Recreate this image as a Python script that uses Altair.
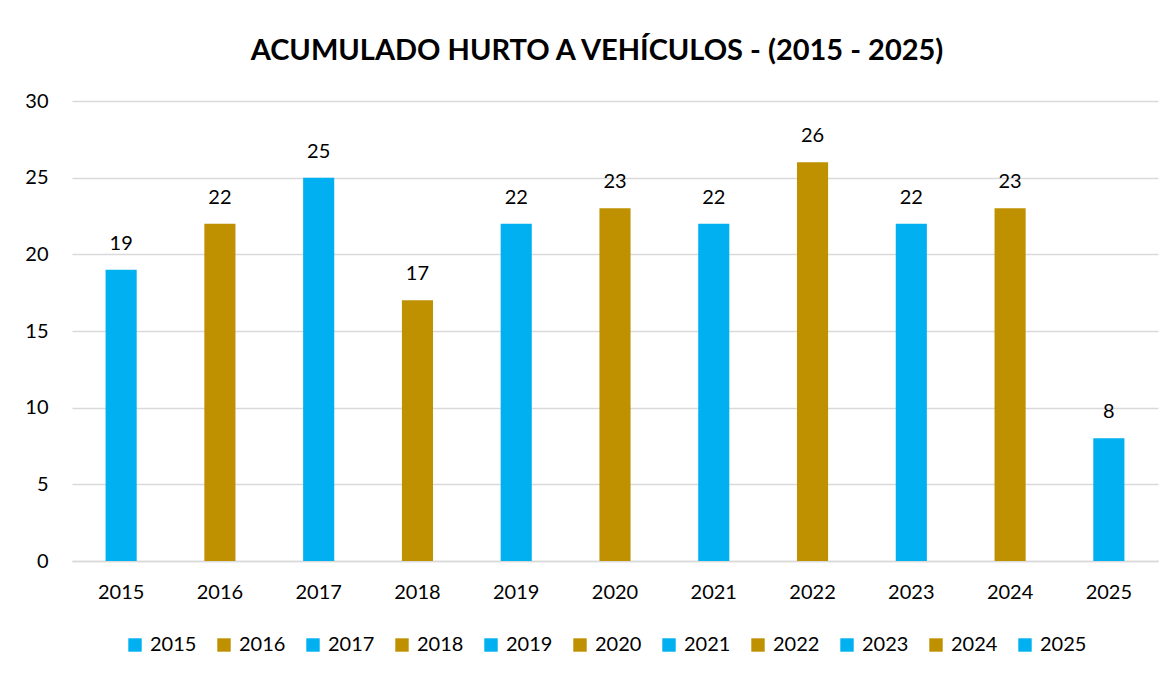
import altair as alt
import pandas as pd

years = ["2015", "2016", "2017", "2018", "2019", "2020", "2021", "2022", "2023", "2024", "2025"]
values = [19, 22, 25, 17, 22, 23, 22, 26, 22, 23, 8]
palette = ["#00B0F0", "#BF9000", "#00B0F0", "#BF9000", "#00B0F0", "#BF9000",
           "#00B0F0", "#BF9000", "#00B0F0", "#BF9000", "#00B0F0"]

df = pd.DataFrame({"year": years, "value": values})

FONT = "Lato"

x = alt.X("year:N", sort=years, title=None,
          scale=alt.Scale(paddingInner=0.685, paddingOuter=0.34),
          axis=alt.Axis(labelAngle=0, labelFontSize=20, labelFont=FONT, labelColor="#000000",
                        labelPadding=21, ticks=False, domainColor="#d9d9d9", domainWidth=1.5,
                        grid=False))
y = alt.Y("value:Q", title=None,
          scale=alt.Scale(domain=[0, 30]),
          axis=alt.Axis(values=[0, 5, 10, 15, 20, 25, 30], labelFontSize=20, labelFont=FONT,
                        labelColor="#000000", labelPadding=24, ticks=False, domain=False,
                        gridColor="#d9d9d9", gridWidth=1.5))

bars = alt.Chart(df).mark_bar().encode(
    x=x, y=y,
    color=alt.Color("year:N", sort=years,
                    scale=alt.Scale(domain=years, range=palette),
                    legend=alt.Legend(orient="none", legendX=53, legendY=534, direction="horizontal",
                                      columns=11, title=None, symbolType="square", symbolSize=180,
                                      symbolStrokeWidth=0, labelFontSize=20, labelFont=FONT,
                                      labelColor="#000000", columnPadding=17, labelOffset=5)),
)

labels = alt.Chart(df).mark_text(dy=-16, fontSize=20, font=FONT, color="#000000",
                                 baseline="bottom").encode(
    x=alt.X("year:N", sort=years), y="value:Q", text="value:Q"
)

chart = alt.layer(bars, labels).properties(
    width=1086, height=460,
    title=alt.TitleParams("ACUMULADO HURTO A VEHÍCULOS - (2015 - 2025)", fontSize=29, font=FONT,
                          fontWeight="bold", color="#000000", offset=25, anchor="middle", dx=-18),
    autosize=alt.AutoSizeParams(type="none"),
    padding={"left": 64, "top": 93, "right": 8, "bottom": 100},
    background="white",
).configure_view(stroke=None)

chart.save("out.html", embed_options={"renderer": "svg", "actions": False})
